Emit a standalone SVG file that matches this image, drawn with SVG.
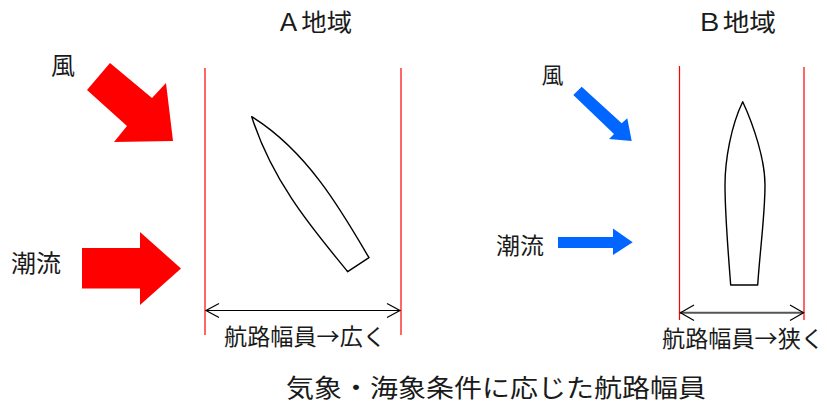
<svg xmlns="http://www.w3.org/2000/svg" width="827" height="403" viewBox="0 0 827 403">
<style>
text{font-family:"Noto Sans CJK JP","Noto Sans CJK SC",sans-serif;fill:#1a1a1a}
.bound{stroke:#ff0000;stroke-width:1.2;fill:none}
.hull{fill:#ffffff;stroke:#000;stroke-width:1.4;stroke-linejoin:round}
.head{fill:none;stroke:#000;stroke-width:1.2}
.red{fill:#ff0000}
.blue{fill:#0066ff}
</style>
<rect width="827" height="403" fill="#ffffff"/>
<g id="title-a"><text x="276" y="31" font-size="24" textLength="76" lengthAdjust="spacingAndGlyphs">Ａ地域</text></g>
<g id="title-b"><text x="696" y="31" font-size="24" textLength="80" lengthAdjust="spacingAndGlyphs">Ｂ地域</text></g>
<g id="channel-a">
<line class="bound" x1="205" y1="68" x2="205" y2="335"/>
<line class="bound" x1="401" y1="68" x2="401" y2="335"/>
</g>
<g id="channel-b">
<line class="bound" x1="679.5" y1="66" x2="679.5" y2="320"/>
<line class="bound" x1="804" y1="67" x2="804" y2="320"/>
</g>
<g id="wind-a">
<text x="51" y="74" font-size="24">風</text>
<polygon class="red" points="87,90 110,63 152,98 166,83 173,141 114,142 127,126"/>
</g>
<g id="current-a">
<text x="11" y="272" font-size="24" textLength="50" lengthAdjust="spacingAndGlyphs">潮流</text>
<polygon class="red" points="82,248 140,248 140,232 181,268.5 140,305 140,288.5 82,288.5"/>
</g>
<g id="wind-b">
<text x="541.5" y="83" font-size="22">風</text>
<polygon class="blue" points="573.3,95 581.7,86.7 621.7,123.3 627.3,118.3 631.7,141 609,139 614,134"/>
</g>
<g id="current-b">
<text x="496" y="254" font-size="23" textLength="48" lengthAdjust="spacingAndGlyphs">潮流</text>
<polygon class="blue" points="558,237 613,237 613,228.5 632.7,242.3 613,255 613,248 558,248"/>
</g>
<g id="ship-a">
<path class="hull" d="M251.7,116.7 C307.7,151.3 342.3,212 369,257.7 L347.7,271.7 C319.3,236.3 274.2,186.8 251.7,116.7 Z"/>
</g>
<g id="ship-b">
<path class="hull" d="M742.7,101.7 C754,126 765,160 765,185 C765,215 760,250 757.7,285 L730.7,285 C728,250 725,215 725,185 C725,160 731,126 742.7,101.7 Z"/>
</g>
<g id="connectors">
<line x1="206" y1="310.5" x2="400" y2="310.5" stroke="#000" stroke-width="1.2"/>
<polyline class="head" points="219,303.5 206,310.5 219,317.5"/>
<polyline class="head" points="387,303.5 400,310.5 387,317.5"/>
<line x1="680" y1="312.7" x2="803.5" y2="312.7" stroke="#555" stroke-width="2"/>
<polyline class="head" points="694,305 680.5,312.7 694,320.5"/>
<polyline class="head" points="790,305 803.5,312.7 790,320.5"/>
</g>
<g id="label-a"><text x="224" y="345" font-size="23" textLength="162" lengthAdjust="spacingAndGlyphs">航路幅員→広く</text></g>
<g id="label-b"><text x="662" y="346.5" font-size="23" textLength="162" lengthAdjust="spacingAndGlyphs">航路幅員→狭く</text></g>
<g id="caption"><text x="286" y="396.5" font-size="25" textLength="420" lengthAdjust="spacingAndGlyphs">気象・海象条件に応じた航路幅員</text></g>
</svg>
